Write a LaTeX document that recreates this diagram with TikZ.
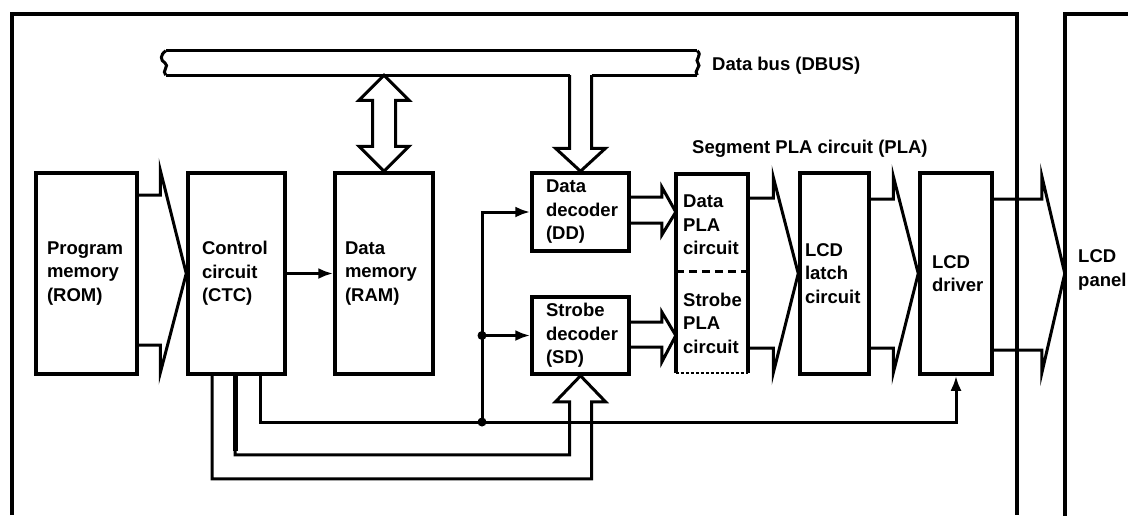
\documentclass[tikz,border=0pt]{standalone}
\usepackage{fontspec}
\setmainfont{Liberation Sans}
\usetikzlibrary{arrows.meta,calc}
\hyphenpenalty=10000
\exhyphenpenalty=10000

\tikzset{
  wire/.style={line width=3pt, line join=miter},
  frame/.style={line width=4pt},
  blk/.style n args={3}{draw, line width=3.5pt, inner sep=0pt, align=left,
    minimum width=#1, minimum height=#2, text width=#3},
  lbl/.style={inner sep=0pt, align=left, anchor=west},
  tip/.style={-{Latex[length=15pt,width=11pt]}},
}

\begin{document}
\begin{tikzpicture}[x=1pt, y=-1pt, font=\bfseries\fontsize{18.5}{23.5}\selectfont]

\useasboundingbox (0,0) rectangle (1128,515);

\def\fatarrow#1#2#3#4#5#6#7{%
  \draw[wire] (#1.east |- 0,#4) -- ($(#2.west |- 0,#4)+(-#3,0)$)
    -- ($(#2.west |- 0,#6)+(-#3,0)$) -- (#2.west |- #1)
    -- ($(#2.west |- 0,#7)+(-#3,0)$) -- ($(#2.west |- 0,#5)+(-#3,0)$)
    -- (#1.east |- 0,#5);}

\draw[frame] (12,515) -- (12,14) -- (1017,14) -- (1017,515);

\node[inner sep=0pt, minimum width=200pt, minimum height=600pt] (panel) at (1165,314) {};
\draw[frame] (panel.south west) -- (panel.north west) -- (panel.north east);
\node[lbl] (paneltxt) at (1078,270) {LCD\\panel};

\node[blk={101pt}{201pt}{79pt}] (rom) at (86.5,273.5) {Program\\memory\\(ROM)};
\node[blk={97pt}{201pt}{69pt}] (ctc) at (236.5,273.5) {Control\\circuit\\(CTC)};
\node[blk={98pt}{201pt}{78pt}] (ram) at (384,273.5) {Data\\memory\\(RAM)};
\node[blk={97pt}{78pt}{69pt}] (dd) at (580.5,212) {Data\\decoder\\(DD)};
\node[blk={97pt}{77pt}{69pt}] (sd) at (580.5,335.5) {Strobe\\decoder\\(SD)};
\node[inner sep=0pt, minimum width=72pt, minimum height=199pt] (pla) at (712,273.5) {};
\node[blk={69pt}{201pt}{59pt}] (latch) at (834.5,273.5) {LCD\\latch\\circuit};
\node[blk={72pt}{201pt}{48pt}] (drv) at (956,273.5) {LCD\\driver};

\draw[line width=3.5pt] (pla.south west) -- (pla.north west) -- (pla.north east) -- (pla.south east);
\draw[line width=2pt, dash pattern=on 3pt off 2pt] (pla.south west) -- (pla.south east);
\draw[wire, dash pattern=on 8pt off 5pt] (pla.west |- 0,271) -- (pla.east |- 0,271);
\node[lbl] (dplatxt) at (683,225) {Data\\PLA\\circuit};
\node[lbl] (splatxt) at (683,323) {Strobe\\PLA\\circuit};

\node[inner sep=0pt, minimum width=531pt, minimum height=24pt] (bus) at (431.5,63) {};
\draw[wire] (bus.north west) -- (bus.north east);
\draw[wire] (bus.south west) -- ($(dd.north |- bus.south)+(-11,0)$);
\draw[wire] ($(dd.north |- bus.south)+(11,0)$) -- (bus.south east);
\draw[wire] (bus.north west) .. controls (160,55) and (160,60) .. (165,63)
  .. controls (170,66) and (161,71) .. (bus.south west);
\draw[wire] (bus.north east) .. controls (703,55) and (694,60) .. (698,63)
  .. controls (702,66) and (693,71) .. (bus.south east);
\node[lbl] (dbus) at (712,66) {Data bus (DBUS)};
\node[lbl] (seg) at (692,149) {Segment PLA circuit (PLA)};

\draw[wire] (ram.north |- bus.south) -- ($(ram.north)+(25,-71)$) -- ($(ram.north)+(11.5,-71)$)
  -- ($(ram.north)+(11.5,-25)$) -- ($(ram.north)+(25,-25)$) -- (ram.north)
  -- ($(ram.north)+(-25,-25)$) -- ($(ram.north)+(-11.5,-25)$)
  -- ($(ram.north)+(-11.5,-71)$) -- ($(ram.north)+(-25,-71)$) -- cycle;

\draw[wire] ($(dd.north |- bus.south)+(-11,0)$) -- ($(dd.north)+(-11,-23)$) -- ($(dd.north)+(-25,-23)$)
  -- (dd.north) -- ($(dd.north)+(25,-23)$) -- ($(dd.north)+(11,-23)$) -- ($(dd.north |- bus.south)+(11,0)$);

\fatarrow{rom}{ctc}{26}{195}{345}{170}{373}
\fatarrow{dd}{pla}{14}{197}{223}{187}{235}
\fatarrow{sd}{pla}{14}{322}{347}{312}{362}
\fatarrow{pla}{latch}{25}{198}{348}{177}{373}
\fatarrow{latch}{drv}{25}{199}{348}{176}{373}
\fatarrow{drv}{panel}{23}{199}{350}{176}{373}

\draw[wire, tip] (ctc) -- (ram);

\coordinate (ja) at (482,422);
\coordinate (jb) at (ja |- sd.west);
\draw[wire] (ja) -- (jb);
\draw[wire, tip] (jb) |- (dd.west);
\draw[wire, tip] (jb) -- (sd.west);
\fill (ja) circle[radius=4.5pt];
\fill (jb) circle[radius=4.5pt];

\draw[wire, tip] (260,0 |- ctc.south) |- (drv.south |- ja) -- (drv.south);

\draw[wire] (212,0 |- ctc.south) |- ($(sd.south)+(11,103)$) -- ($(sd.south)+(11,26)$)
  -- ($(sd.south)+(25,26)$) -- (sd.south) -- ($(sd.south)+(-25,26)$)
  -- ($(sd.south)+(-11,26)$) -- ($(sd.south)+(-11,79)$) -| (235,0 |- ctc.south);
\draw[line width=5pt] (235,0 |- ctc.south) -- (235,451);

\end{tikzpicture}
\end{document}
